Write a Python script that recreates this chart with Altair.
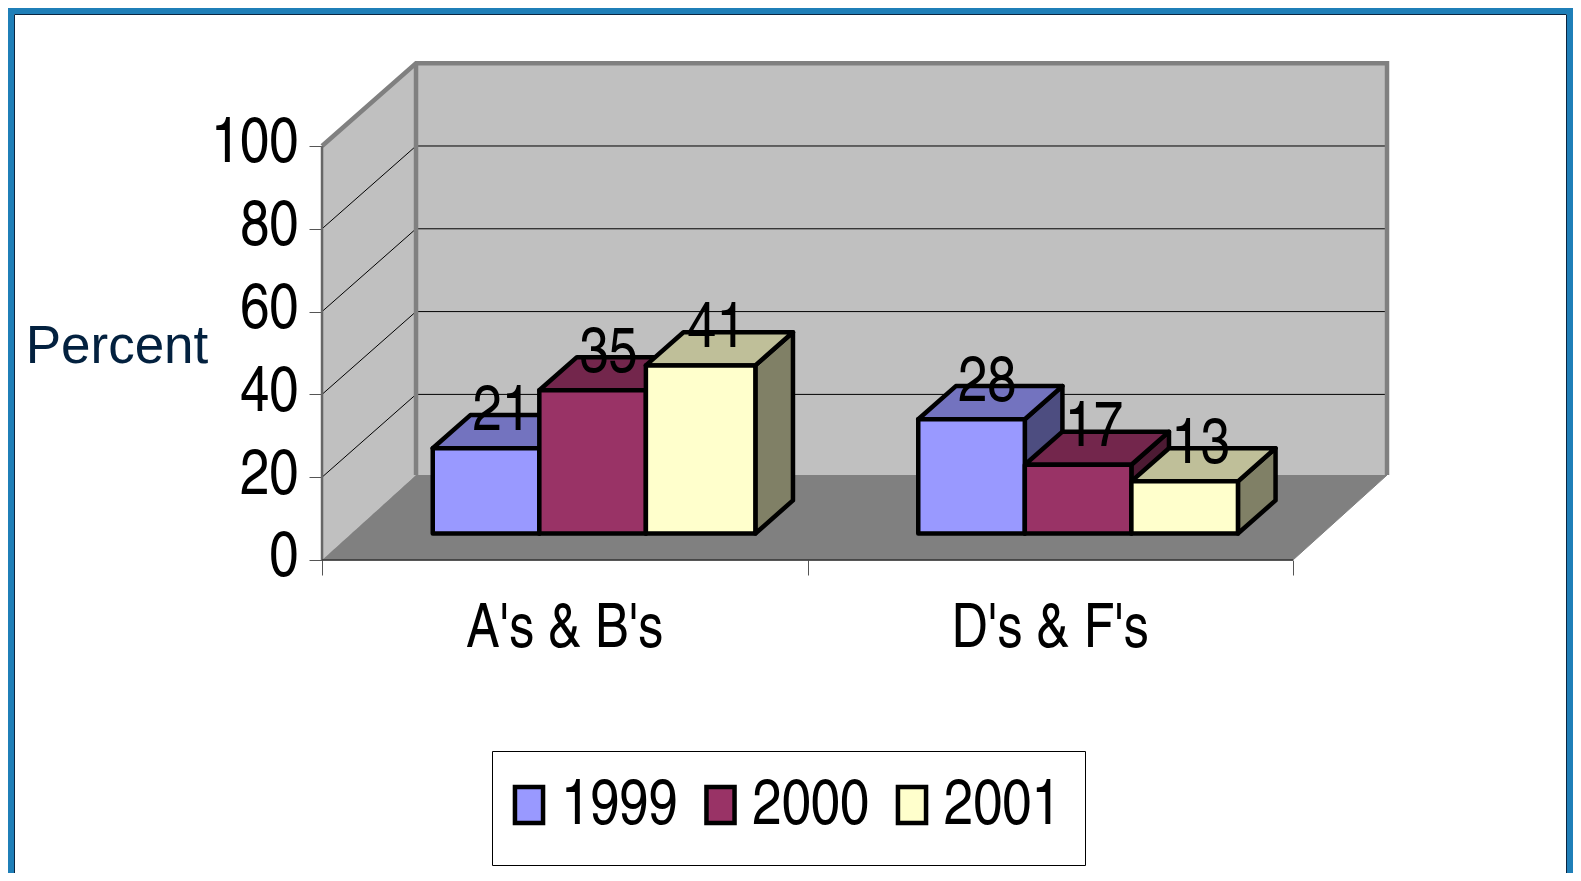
import altair as alt
import pandas as pd

# ---- values
categories = ["A's & B's", "D's & F's"]
years = ["1999", "2000", "2001"]
values_1999 = [21, 28]
values_2000 = [35, 17]
values_2001 = [41, 13]
y_ticks = [0, 20, 40, 60, 80, 100]
front_colors = ["#9999FF", "#993366", "#FFFFCC"]
top_colors = ["#7373BF", "#73264C", "#BFBF99"]
side_colors = ["#4D4D80", "#4D1A33", "#808066"]

series = [values_1999, values_2000, values_2001]

# ---- 3-D projection parameters, in scale units
DEPTH_X = 94 / 485.5   # category units added at the back of the box
DEPTH_Y = 20.0         # value units added at the back of the box
GAP = 0.17
BAR_W = 0.2195
Z0, Z1 = 0.3, 0.7      # depth range of the bars
FLOOR_LIFT = 0.5
BASE_LIFT = 0.4

W, H = 1565, 865
x_scale = alt.Scale(domain=[-0.6468, 2.5767], range=[0, W], nice=False, zero=False)
y_scale = alt.Scale(domain=[(560 - (8 + H)) / 4.14, 133.33], range=[H, 0], nice=False, zero=False)

NARROW = "TeX Gyre Heros Cn, Arial Narrow, Liberation Sans"
FS = 64

x_axis = alt.Axis(
    values=[0, 1, 2], labels=False, domain=False, grid=False, tickSize=15, tickColor="#555555",
    tickWidth=1, offset=-(H - (560 - 8)), title=None)
y_axis = alt.Axis(
    values=y_ticks, domain=False, grid=False, tickSize=13, tickColor="#555555", tickWidth=1,
    labelFont=NARROW, labelFontSize=FS, labelColor="#000000", labelPadding=11, labelOffset=-3,
    offset=-(322 - 8), title="Percent", titleFont="Liberation Sans", titleFontSize=53,
    titleFontWeight="normal", titleColor="#03213F", titleAngle=0, titleAlign="center",
    titleBaseline="alphabetic", titleX=-205.5, titleY=354)
X = alt.X("x:Q", scale=x_scale, axis=x_axis)
Y = alt.Y("y:Q", scale=y_scale, axis=y_axis)


def px(c, z):
    return c + z * DEPTH_X


def py(v, z):
    return v + z * DEPTH_Y


# ---- box
floor = pd.DataFrame([
    {"y": 0, "x": px(0, 0), "x2": px(2, 0)},
    {"y": DEPTH_Y + FLOOR_LIFT, "x": px(0, 1), "x2": px(2, 1)},
])
left_wall = pd.DataFrame([
    {"x": px(0, 0), "y": py(0, 0), "y2": py(100, 0)},
    {"x": px(0, 1), "y": py(0, 1) + FLOOR_LIFT, "y2": py(100, 1)},
])
back_wall = pd.DataFrame([{"x": px(0, 1), "x2": px(2, 1), "y": py(0, 1) + FLOOR_LIFT, "y2": py(100, 1)}])

floor_l = alt.Chart(floor).mark_area(orient="horizontal", fill="#808080", stroke="#808080", strokeWidth=1).encode(
    y=Y, x=X, x2="x2:Q")
lwall_l = alt.Chart(left_wall).mark_area(orient="vertical", fill="#C0C0C0").encode(x=X, y=Y, y2="y2:Q")
bwall_l = alt.Chart(back_wall).mark_rect(fill="#C0C0C0").encode(x=X, x2="x2:Q", y=Y, y2="y2:Q")

grid_rows = []
for v in [20, 40, 60, 80]:
    grid_rows += [
        {"lvl": v, "o": 0, "x": px(0, 0), "y": py(v, 0)},
        {"lvl": v, "o": 1, "x": px(0, 1), "y": py(v, 1)},
        {"lvl": v, "o": 2, "x": px(2, 1), "y": py(v, 1)},
    ]
grid_l = alt.Chart(pd.DataFrame(grid_rows)).mark_line(color="#000000", strokeWidth=1).encode(
    x=X, y=Y, detail="lvl:N", order="o:Q")

edge_rows = [
    {"o": 0, "x": px(0, 0), "y": py(100, 0)},
    {"o": 1, "x": px(0, 1), "y": py(100, 1)},
    {"o": 2, "x": px(2, 1), "y": py(100, 1)},
    {"o": 3, "x": px(2, 1), "y": py(0, 1) + FLOOR_LIFT},
]
edge_l = alt.Chart(pd.DataFrame(edge_rows)).mark_line(color="#808080", strokeWidth=4.5, strokeJoin="miter").encode(
    x=X, y=Y, order="o:Q")
back_edge = pd.DataFrame([{"o": 0, "x": px(0, 1), "y": py(0, 1) + FLOOR_LIFT}, {"o": 1, "x": px(0, 1), "y": py(100, 1)}])
back_edge_l = alt.Chart(back_edge).mark_line(color="#808080", strokeWidth=4.5).encode(x=X, y=Y, order="o:Q")
front_edge = pd.DataFrame([{"o": 0, "x": px(0, 0), "y": py(0, 0)}, {"o": 1, "x": px(0, 0), "y": py(100, 0)}])
front_edge_l = alt.Chart(front_edge).mark_line(color="#666666", strokeWidth=2.5).encode(x=X, y=Y, order="o:Q")
bottom_edge = pd.DataFrame([{"o": 0, "x": px(0, 0), "y": 0}, {"o": 1, "x": px(2, 0), "y": 0}])
bottom_edge_l = alt.Chart(bottom_edge).mark_line(color="#333333", strokeWidth=1.5).encode(x=X, y=Y, order="o:Q")

# ---- bars
fronts, tops, sides, labels = [], [], [], []
for j, (yr, vals) in enumerate(zip(years, series)):
    for i, v in enumerate(vals):
        a = i + GAP + j * BAR_W
        b = a + BAR_W + (0.006 if (i, j) == (0, 2) else 0)
        key = f"{i}-{j}"
        fronts.append({"Year": yr, "x": px(a, Z0), "x2": px(b, Z0), "y": py(BASE_LIFT, Z0), "y2": py(v, Z0)})
        tops += [
            {"bar": key, "c": top_colors[j], "y": py(v, Z0), "x": px(a, Z0), "x2": px(b, Z0)},
            {"bar": key, "c": top_colors[j], "y": py(v, Z1), "x": px(a, Z1), "x2": px(b, Z1)},
        ]
        sides += [
            {"bar": key, "c": side_colors[j], "x": px(b, Z0), "y": py(BASE_LIFT, Z0), "y2": py(v, Z0)},
            {"bar": key, "c": side_colors[j], "x": px(b, Z1), "y": py(BASE_LIFT, Z1), "y2": py(v, Z1)},
        ]
        labels.append({"x": px((a + b) / 2, 0.5), "y": py(v, 0.5), "t": str(v)})

bar_style = dict(stroke="#000000", strokeWidth=4.5, strokeJoin="round")
sides_l = alt.Chart(pd.DataFrame(sides)).mark_area(orient="vertical", **bar_style).encode(
    x=X, y=Y, y2="y2:Q", detail="bar:N", fill=alt.Fill("c:N", scale=None))
tops_l = alt.Chart(pd.DataFrame(tops)).mark_area(orient="horizontal", **bar_style).encode(
    y=Y, x=X, x2="x2:Q", detail="bar:N", fill=alt.Fill("c:N", scale=None))
fronts_l = alt.Chart(pd.DataFrame(fronts)).mark_rect(**bar_style).encode(
    x=X, x2="x2:Q", y=Y, y2="y2:Q",
    color=alt.Color("Year:N", scale=alt.Scale(domain=years, range=front_colors), legend=alt.Legend(
        title=None, orient="none", legendX=498, legendY=765, direction="horizontal", padding=0,
        symbolType="M-0.78,-1H0.78V1H-0.78Z", symbolSize=1296, symbolStrokeColor="#000000", symbolStrokeWidth=4.5,
        symbolOpacity=1, symbolOffset=-9, labelFont=NARROW, labelFontSize=FS, labelColor="#000000", labelLimit=200,
        labelOffset=0, columnPadding=18.5)))

labels_l = alt.Chart(pd.DataFrame(labels)).mark_text(
    font=NARROW, fontSize=FS, color="#000000", align="center", baseline="alphabetic", dx=-3, dy=-2).encode(
    x=X, y=Y, text="t:N")

cat_df = pd.DataFrame({"x": [i + 0.5 for i in range(len(categories))], "y": [-21, -21], "t": categories})
cats_l = alt.Chart(cat_df).mark_text(
    font=NARROW, fontSize=61, color="#000000", align="center", baseline="alphabetic").encode(x=X, y=Y, text="t:N")

# ---- slide frame and legend box
fr = "#1F7FB8"
blank = pd.DataFrame({"a": [0]})
frame = [
    alt.Chart(blank).mark_rect(fill=fr).encode(
        x=alt.value(0), x2=alt.value(6), y=alt.value(0), y2=alt.value(H)),
    alt.Chart(blank).mark_rect(fill=fr).encode(
        x=alt.value(W - 6), x2=alt.value(W), y=alt.value(0), y2=alt.value(H)),
    alt.Chart(blank).mark_rect(fill=fr).encode(
        x=alt.value(0), x2=alt.value(W), y=alt.value(0), y2=alt.value(6)),
    alt.Chart(blank).mark_rect(fillOpacity=0, stroke="#0A2540", strokeWidth=1).encode(
        x=alt.value(6.5), x2=alt.value(W - 6.5), y=alt.value(6.5), y2=alt.value(H + 10)),
    alt.Chart(blank).mark_rect(fill="#FFFFFF", stroke="#000000", strokeWidth=1).encode(
        x=alt.value(484.5), x2=alt.value(1077.5), y=alt.value(743.5), y2=alt.value(857.5)),
]

chart = alt.layer(
    *frame, floor_l, lwall_l, bwall_l, grid_l, back_edge_l, edge_l, front_edge_l, bottom_edge_l,
    sides_l, tops_l, fronts_l, labels_l, cats_l,
).properties(
    width=W, height=H, padding=0, autosize=alt.AutoSizeParams(type="none"), background="#FFFFFF",
).configure_view(stroke=None)

chart.save("out.html", embed_options={"renderer": "svg", "actions": False})
